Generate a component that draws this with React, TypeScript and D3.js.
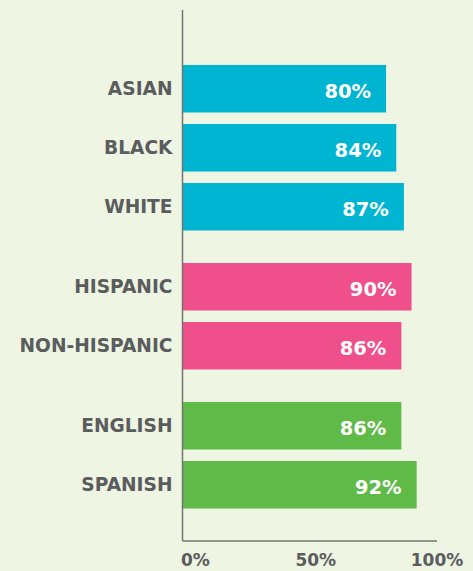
import React from "react";
import * as d3 from "d3";

const categories = ["ASIAN", "BLACK", "WHITE", "HISPANIC", "NON-HISPANIC", "ENGLISH", "SPANISH"];
const values = [80, 84, 87, 90, 86, 86, 92];
const groups = [0, 0, 0, 1, 1, 2, 2];
const groupColors = ["#00b5d2", "#ef508b", "#5fba47"];
const tickValues = [0, 50, 100];
const tickLabels = ["0%", "50%", "100%"];

const W = 473;
const H = 571;
const FONT = "'DejaVu Sans', sans-serif";

export default function App() {
  const x = d3.scaleLinear().domain([0, 100]).range([182.5, 437]);
  const gapUnits = 0.356;
  const y = d3.scaleLinear().domain([0, 1]).range([65, 124]);
  const barH = 47.5;
  const slot = (i: number) => i + groups[i] * gapUnits;
  const axisColor = "#727472";
  const labelColor = "#5a5c5e";
  const anchors = ["start", "middle", "middle"];
  const offsets = [-1.5, 6, 0];

  return (
    <svg
      width={W}
      height={H}
      style={{ position: "absolute", left: 0, top: 0, display: "block" }}
    >
      <rect x={0} y={0} width={W} height={H} fill="#eef5e3" />
      {categories.map((c, i) => {
        const y0 = y(slot(i));
        return (
          <g key={c}>
            <rect
              x={x(0)}
              y={y0}
              width={x(values[i]) - x(0)}
              height={barH}
              fill={groupColors[groups[i]]}
            />
            <text
              x={x(0) - 10}
              y={y0 + barH / 2}
              dy="0.36em"
              textAnchor="end"
              fontFamily={FONT}
              fontWeight="bold"
              fontSize={18.6}
              fill={labelColor}
            >
              {c}
            </text>
            <text
              x={x(values[i]) - 15}
              y={y0 + barH / 2 + 2}
              dy="0.36em"
              textAnchor="end"
              fontFamily={FONT}
              fontWeight="bold"
              fontSize={19.5}
              fill="#ffffff"
            >
              {values[i] + "%"}
            </text>
          </g>
        );
      })}
      <line x1={x(0)} x2={x(0)} y1={10} y2={541} stroke={axisColor} strokeWidth={1.5} />
      <line x1={x(0)} x2={x(100)} y1={541} y2={541} stroke={axisColor} strokeWidth={1.5} />
      {tickValues.map((t, i) => (
        <text
          key={t}
          x={x(t) + offsets[i]}
          y={566}
          textAnchor={anchors[i] as any}
          fontFamily={FONT}
          fontWeight="bold"
          fontSize={17}
          fill={labelColor}
        >
          {tickLabels[i]}
        </text>
      ))}
    </svg>
  );
}
